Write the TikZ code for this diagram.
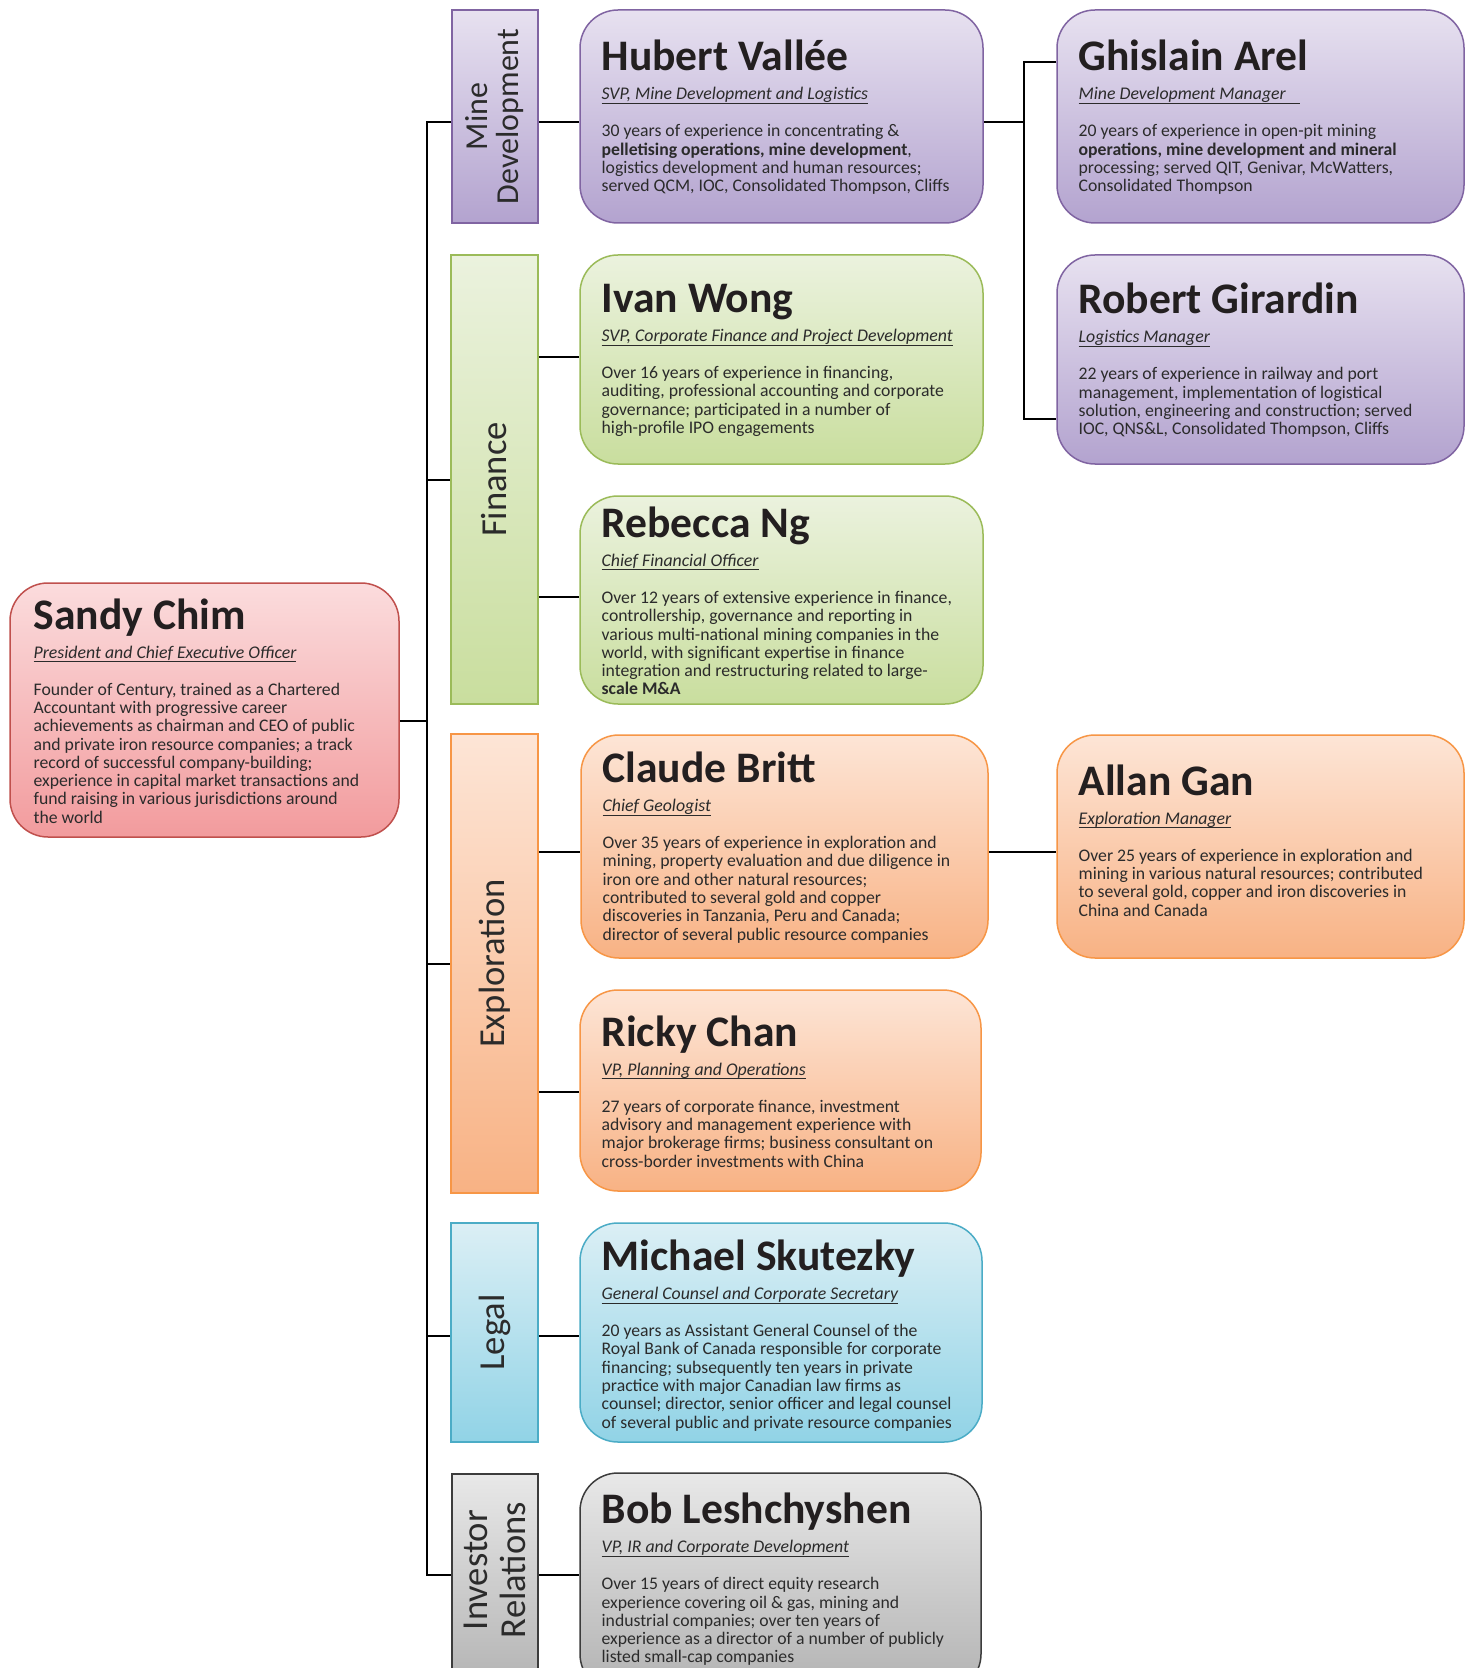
\documentclass[tikz,border=0pt]{standalone}
\usepackage{fontspec}
\setmainfont{Carlito}
\usetikzlibrary{fit,calc}

% palette: light top, darker bottom, outline
\definecolor{purpleTop}{HTML}{E7E1F0}
\definecolor{purpleBot}{HTML}{B3A3CF}
\definecolor{purpleLine}{HTML}{8064A2}
\definecolor{greenTop}{HTML}{EBF2DE}
\definecolor{greenBot}{HTML}{C9DE9E}
\definecolor{greenLine}{HTML}{9BBB59}
\definecolor{orangeTop}{HTML}{FDE5D6}
\definecolor{orangeBot}{HTML}{F8B284}
\definecolor{orangeLine}{HTML}{F79646}
\definecolor{blueTop}{HTML}{DBEFF5}
\definecolor{blueBot}{HTML}{91D3E6}
\definecolor{blueLine}{HTML}{4BACC6}
\definecolor{redTop}{HTML}{FBDCDD}
\definecolor{redBot}{HTML}{F29B9D}
\definecolor{redLine}{HTML}{C0504D}
\definecolor{grayTop}{HTML}{E8E8E8}
\definecolor{grayBot}{HTML}{B2B2B2}
\definecolor{grayLine}{HTML}{3C3C3C}
\definecolor{nameCol}{HTML}{231F20}
\definecolor{bodyCol}{HTML}{2B2B2B}

% underline sitting just below the baseline
\newcommand\titlerule[1]{\leavevmode\setbox0=\hbox{#1}\rlap{\rule[-2pt]{\wd0}{0.5pt}}\box0}

% name, job title, biography
\newcommand\profile[3]{%
  \begin{minipage}{230pt}\raggedright
    {\fontsize{21.8pt}{21.8pt}\selectfont\bfseries\color{nameCol}#1\par}
    {\fontsize{8.9pt}{14.5pt}\selectfont\itshape\color{bodyCol}\titlerule{#2}\par}
    \vskip 9.35pt
    {\fontsize{8.85pt}{9.15pt}\selectfont\color{bodyCol}#3\par}
  \end{minipage}}

\tikzset{
  link/.style={draw=black, line width=1pt},
  cardbox/.style={rounded corners=19pt, line width=0.75pt, inner sep=0pt},
  barbox/.style={line width=0.75pt, inner sep=0pt},
  purplefill/.style={top color=purpleTop, bottom color=purpleBot, draw=purpleLine},
  greenfill/.style={top color=greenTop, bottom color=greenBot, draw=greenLine},
  orangefill/.style={top color=orangeTop, bottom color=orangeBot, draw=orangeLine},
  bluefill/.style={top color=blueTop, bottom color=blueBot, draw=blueLine},
  redfill/.style={top color=redTop, bottom color=redBot, draw=redLine},
  grayfill/.style={top color=grayTop, bottom color=grayBot, draw=grayLine},
  cardtext/.style={anchor=west, inner sep=0pt, xshift=11pt, yshift=-0.5pt},
  barlabel/.style={rotate=90, align=center, text=bodyCol, inner sep=0pt,
    font={\fontsize{18.3pt}{17pt}\selectfont}},
}

\begin{document}
\begin{tikzpicture}[x=0.5pt, y=-0.5pt]
\useasboundingbox (0,0) rectangle (1473,1668);
\fill[white] (0,0) rectangle (1473,1668);

% ---------- department bars ----------
\node[barbox, purplefill, fit={(452,10) (538,223)}] (minebar) {};
\node[barbox, greenfill,  fit={(451,255) (538,704)}] (finbar) {};
\node[barbox, orangefill, fit={(451,734) (538,1193)}] (expbar) {};
\node[barbox, bluefill,   fit={(451,1223) (538,1442)}] (legalbar) {};
\node[barbox, grayfill,   fit={(452,1474) (538,1692)}] (irbar) {};

\node[barlabel, font={\fontsize{16pt}{15.5pt}\selectfont}] (minebar-label) at (minebar.center) {Mine\\Development};
\node[barlabel] (finbar-label) at (finbar.center) {Finance};
\node[barlabel] (expbar-label) at (expbar.center) {Exploration};
\node[barlabel] (legalbar-label) at (legalbar.center) {Legal};
\node[barlabel, font={\fontsize{18.3pt}{19pt}\selectfont}] (irbar-label) at (irbar.center |- 0,1570) {Investor\\Relations};

% ---------- profile cards ----------
\node[cardbox, redfill, fit={(10,583) (399,837)}] (sandy) {};
\node[cardtext, xshift=1pt] (sandy-text) at (sandy.west) {\profile{Sandy Chim}{President and Chief Executive Officer}{%
Founder of Century, trained as a Chartered\\
Accountant with progressive career\\
achievements as chairman and CEO of public\\
and private iron resource companies; a track\\
record of successful company-building;\\
experience in capital market transactions and\\
fund raising in various jurisdictions around\\
the world}};

\node[cardbox, purplefill, fit={(580,10) (983,223)}] (hubert) {};
\node[cardtext] (hubert-text) at (hubert.west) {\profile{Hubert Vallée}{SVP, Mine Development and Logistics}{%
30 years of experience in concentrating \&\\
\textbf{pelletising operations, mine development},\\
logistics development and human resources;\\
served QCM, IOC, Consolidated Thompson, Cliffs}};

\node[cardbox, purplefill, fit={(1057,10) (1464,223)}] (ghislain) {};
\node[cardtext] (ghislain-text) at (ghislain.west) {\profile{Ghislain Arel}{Mine Development Manager\hspace*{7pt}}{%
20 years of experience in open-pit mining\\
\textbf{operations, mine development and mineral}\\
processing; served QIT, Genivar, McWatters,\\
Consolidated Thompson}};

\node[cardbox, purplefill, fit={(1057,255) (1464,464)}] (robert) {};
\node[cardtext] (robert-text) at (robert.west) {\profile{Robert Girardin}{Logistics Manager}{%
22 years of experience in railway and port\\
management, implementation of logistical\\
solution, engineering and construction; served\\
IOC, QNS\&L, Consolidated Thompson, Cliffs}};

\node[cardbox, greenfill, fit={(580,255) (983,464)}] (ivan) {};
\node[cardtext] (ivan-text) at (ivan.west) {\profile{Ivan Wong}{SVP, Corporate Finance and Project Development}{%
Over 16 years of experience in financing,\\
auditing, professional accounting and corporate\\
governance; participated in a number of\\
high-profile IPO engagements}};

\node[cardbox, greenfill, fit={(580,496) (983,704)}] (rebecca) {};
\node[cardtext] (rebecca-text) at (rebecca.west) {\profile{Rebecca Ng}{Chief Financial Officer}{%
Over 12 years of extensive experience in finance,\\
controllership, governance and reporting in\\
various multi-national mining companies in the\\
world, with significant expertise in finance\\
integration and restructuring related to large-\\
\textbf{scale M\&A}}};

\node[cardbox, orangefill, fit={(581,735) (988,958)}] (claude) {};
\node[cardtext] (claude-text) at (claude.west) {\profile{Claude Britt}{Chief Geologist}{%
Over 35 years of experience in exploration and\\
mining, property evaluation and due diligence in\\
iron ore and other natural resources;\\
contributed to several gold and copper\\
discoveries in Tanzania, Peru and Canada;\\
director of several public resource companies}};

\node[cardbox, orangefill, fit={(1057,735) (1464,958)}] (allan) {};
\node[cardtext, yshift=3.5pt] (allan-text) at (allan.west) {\profile{Allan Gan}{Exploration Manager}{%
Over 25 years of experience in exploration and\\
mining in various natural resources; contributed\\
to several gold, copper and iron discoveries in\\
China and Canada}};

\node[cardbox, orangefill, fit={(580,990) (981,1191)}] (ricky) {};
\node[cardtext] (ricky-text) at (ricky.west) {\profile{Ricky Chan}{VP, Planning and Operations}{%
27 years of corporate finance, investment\\
advisory and management experience with\\
major brokerage firms; business consultant on\\
cross-border investments with China}};

\node[cardbox, bluefill, fit={(580,1223) (982,1442)}] (michael) {};
\node[cardtext, yshift=-1pt] (michael-text) at (michael.west) {\profile{Michael Skutezky}{General Counsel and Corporate Secretary}{%
20 years as Assistant General Counsel of the\\
Royal Bank of Canada responsible for corporate\\
financing; subsequently ten years in private\\
practice with major Canadian law firms as\\
counsel; director, senior officer and legal counsel\\
of several public and private resource companies}};

\node[cardbox, grayfill, fit={(580,1473) (981,1692)}] (bob) {};
\node[cardtext, yshift=2pt] (bob-text) at (bob.west) {\profile{Bob Leshchyshen}{VP, IR and Corporate Development}{%
Over 15 years of direct equity research\\
experience covering oil \& gas, mining and\\
industrial companies; over ten years of\\
experience as a director of a number of publicly\\
listed small-cap companies}};

% ---------- connector junctions ----------
\coordinate (j-mine)  at (426.5,122.5);
\coordinate (j-fin)   at (426.5,480);
\coordinate (j-sandy) at (426.5,721);
\coordinate (j-exp)   at (426.5,963.5);
\coordinate (j-legal) at (426.5,1336);
\coordinate (j-ir)    at (426.5,1575);
\coordinate (y-ivan)    at (0,357);
\coordinate (y-rebecca) at (0,597);
\coordinate (y-claude)  at (0,851.5);
\coordinate (y-ricky)   at (0,1092);
\coordinate (r-top) at (1024,62.5);
\coordinate (r-mid) at (1024,122.5);
\coordinate (r-bot) at (1024,419);

% ---------- connectors ----------
\draw[link] (minebar.west |- j-mine) -- (j-mine) -- (j-ir) -- (irbar.west |- j-ir);
\draw[link] (sandy.east |- j-sandy) -- (j-sandy);
\draw[link] (j-fin) -- (finbar.west |- j-fin);
\draw[link] (j-exp) -- (expbar.west |- j-exp);
\draw[link] (j-legal) -- (legalbar.west |- j-legal);

\draw[link] (minebar.east |- j-mine) -- (hubert.west |- j-mine);
\draw[link] (finbar.east |- y-ivan) -- (ivan.west |- y-ivan);
\draw[link] (finbar.east |- y-rebecca) -- (rebecca.west |- y-rebecca);
\draw[link] (expbar.east |- y-claude) -- (claude.west |- y-claude);
\draw[link] (expbar.east |- y-ricky) -- (ricky.west |- y-ricky);
\draw[link] (legalbar.east |- j-legal) -- (michael.west |- j-legal);
\draw[link] (irbar.east |- j-ir) -- (bob.west |- j-ir);

\draw[link] (hubert.east |- r-mid) -- (r-mid);
\draw[link] (ghislain.west |- r-top) -- (r-top) -- (r-bot) -- (robert.west |- r-bot);
\draw[link] (claude.east |- y-claude) -- (allan.west |- y-claude);
\end{tikzpicture}
\end{document}
